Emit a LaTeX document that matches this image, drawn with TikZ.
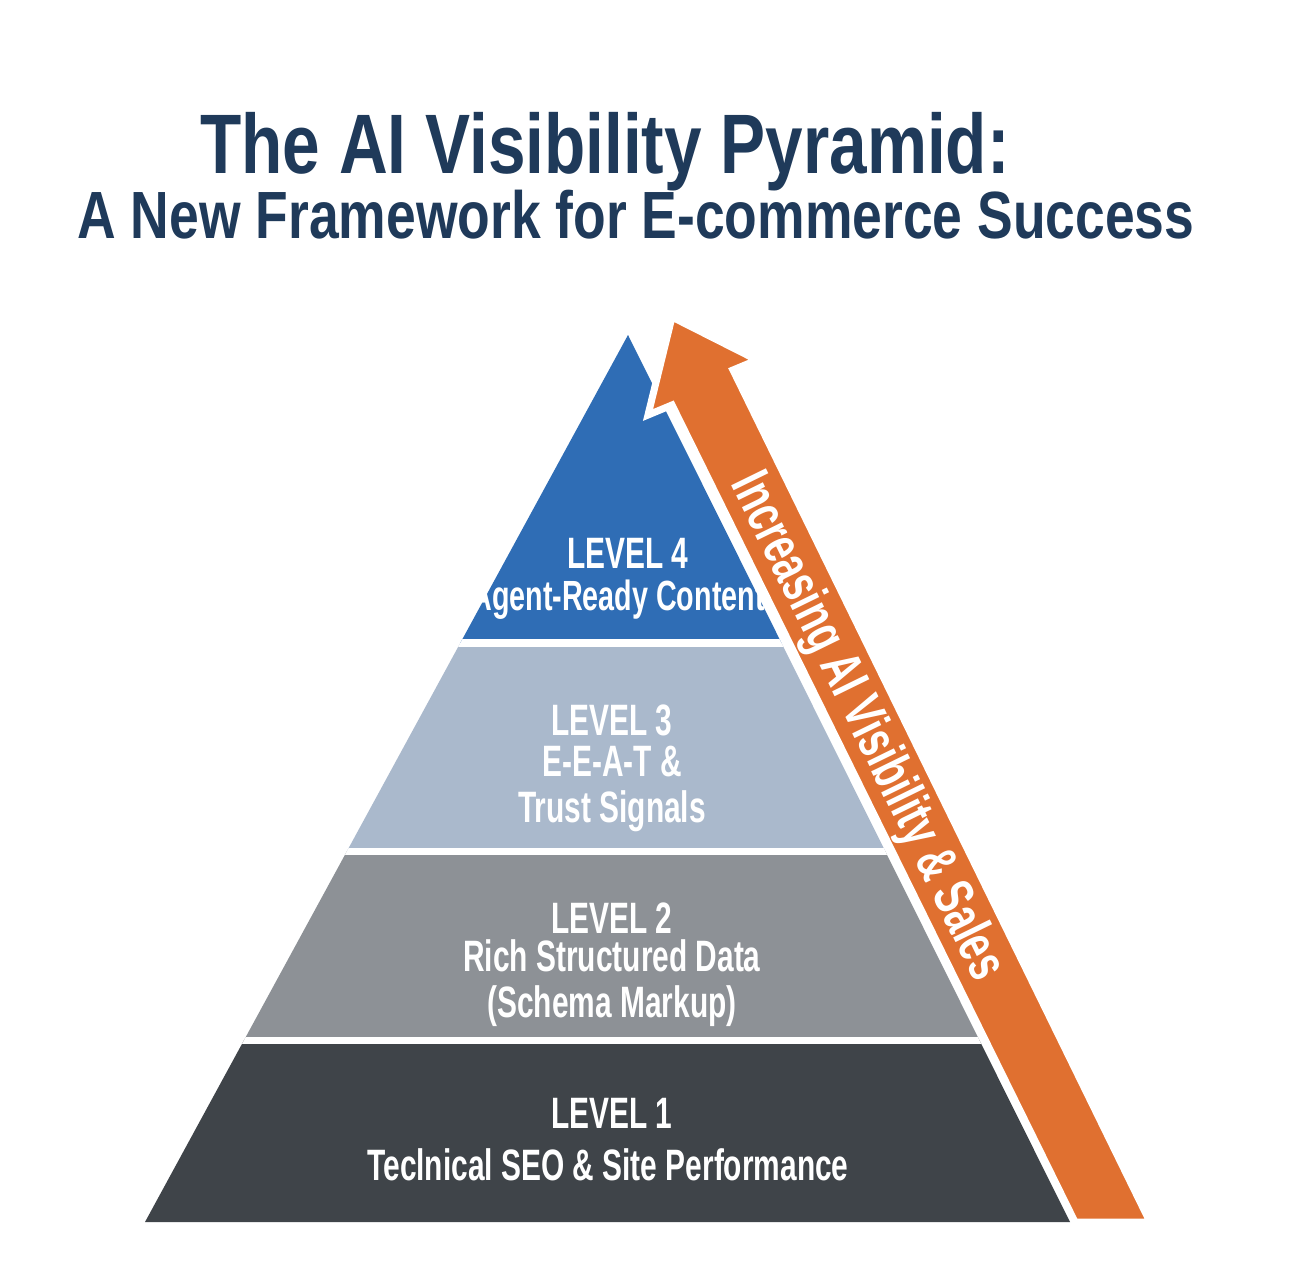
\documentclass[tikz,border=0pt]{standalone}
\usepackage{fontspec}
\setmainfont{Liberation Sans}[FakeStretch=0.8]
\newfontfamily\narrowfont{Liberation Sans}[FakeStretch=0.68]
\definecolor{navy}{HTML}{1F3A5A}
\definecolor{lvlfour}{HTML}{2F6DB5}
\definecolor{lvlthree}{HTML}{AAB9CC}
\definecolor{lvltwo}{HTML}{8D9196}
\definecolor{lvlone}{HTML}{3F4449}
\definecolor{arroworange}{HTML}{E07030}
\tikzset{
  title/.style={text=navy, font=\bfseries},
  lvl/.style={text=white, font=\narrowfont\fontsize{12.5}{13}\selectfont\bfseries, align=center},
  band/.style={draw=white, line width=2pt}
}
\begin{document}
\begin{tikzpicture}[x=0.01cm,y=-0.01cm]
	\useasboundingbox (0,0) rectangle (1312,1284);
	\fill[white] (0,0) rectangle (1312,1284);

	% Titel
	\node[title, font=\fontsize{24}{26}\selectfont\bfseries] (titleA) at (605,152) {The AI Visibility Pyramid:};
	\node[title, font=\fontsize{19}{21}\selectfont\bfseries] (titleB) at (636,215) {A New Framework for E-commerce Success};

	% Pyramide
	\begin{scope}
		\clip (628,335) -- (1070,1222) -- (145,1222) -- cycle;
		\fill[lvlfour] (0,300) rectangle (1312,643);
		\fill[lvlthree] (0,643) rectangle (1312,851);
		\fill[lvltwo] (0,851) rectangle (1312,1040);
		\fill[lvlone] (0,1040) rectangle (1312,1230);
		\draw[band] (0,643) -- (1312,643);
		\draw[band] (0,851) -- (1312,851);
		\draw[band] (0,1040) -- (1312,1040);
	\end{scope}

	% Pfeil
	\draw[fill=arroworange, draw=white, line width=2pt] (1075,1222) -- (672,405) -- (648,415) -- (672,317)
		-- (757,360) -- (733,370) -- (1150,1222) -- cycle;
	\node[text=white, font=\narrowfont\fontsize{16}{17}\selectfont\bfseries, rotate=-63.9] (arrowtext) at (866,727) {Increasing AI Visibility \& Sales};

	% Ebenen
	\node[lvl] (l4) at (628,553) {LEVEL 4};
	\node[lvl, font=\narrowfont\fontsize{12}{13}\selectfont\bfseries] (l4t) at (618,600) {Agent-Ready Content};
	\node[lvl] (l3) at (612,720) {LEVEL 3};
	\node[lvl] (l3t) at (612,789) {E-E-A-T \&\\Trust Signals};
	\node[lvl] (l2) at (612,918) {LEVEL 2};
	\node[lvl] (l2t) at (612,983) {Rich Structured Data\\(Schema Markup)};
	\node[lvl] (l1) at (612,1113) {LEVEL 1};
	\node[lvl] (l1t) at (608,1165) {Teclnical SEO \& Site Performance};
\end{tikzpicture}
\end{document}
